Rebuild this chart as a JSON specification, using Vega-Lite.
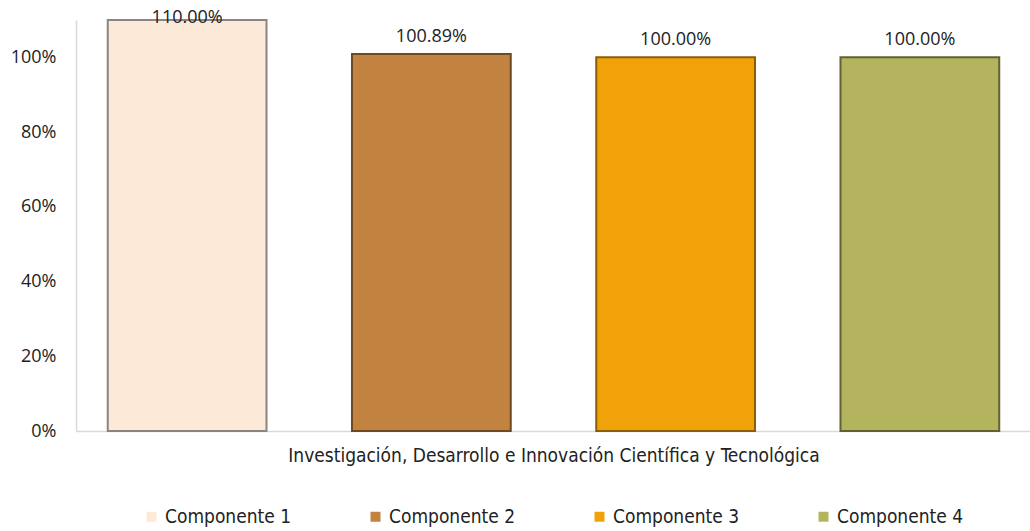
{
  "$schema": "https://vega.github.io/schema/vega-lite/v6.json",
  "autosize": "none",
  "width": 955,
  "height": 411,
  "padding": {"left": 76, "top": 20, "right": 0, "bottom": 100},
  "background": "white",
  "config": {"view": {"stroke": null}},
  "data": {
    "values": [
      {"grupo": "Investigación, Desarrollo e Innovación Científica y Tecnológica", "componente": "Componente 1", "valor": 1.10},
      {"grupo": "Investigación, Desarrollo e Innovación Científica y Tecnológica", "componente": "Componente 2", "valor": 1.0089},
      {"grupo": "Investigación, Desarrollo e Innovación Científica y Tecnológica", "componente": "Componente 3", "valor": 1.00},
      {"grupo": "Investigación, Desarrollo e Innovación Científica y Tecnológica", "componente": "Componente 4", "valor": 1.00}
    ]
  },
  "encoding": {
    "x": {
      "field": "componente",
      "type": "nominal",
      "scale": {"paddingInner": 0.35, "paddingOuter": 0.13},
      "axis": {
        "title": "Investigación, Desarrollo e Innovación Científica y Tecnológica",
        "labels": false,
        "ticks": false,
        "domainColor": "#D9D9D9",
        "domainWidth": 1.5,
        "titleFont": "DejaVu Sans Condensed, sans-serif",
        "titleFontSize": 19,
        "titleFontWeight": "normal",
        "titleColor": "#222222",
        "titlePadding": 15
      }
    },
    "y": {
      "field": "valor",
      "type": "quantitative",
      "scale": {"domain": [0, 1.1], "nice": false},
      "axis": {
        "title": null,
        "values": [0, 0.2, 0.4, 0.6, 0.8, 1.0],
        "format": ".0%",
        "grid": false,
        "ticks": false,
        "domainColor": "#D9D9D9",
        "domainWidth": 1.5,
        "labelFont": "Open Sans",
        "labelFontSize": 18,
        "labelColor": "#222222",
        "labelPadding": 20
      }
    }
  },
  "layer": [
    {
      "mark": {"type": "bar", "strokeWidth": 2},
      "encoding": {
        "color": {
          "field": "componente",
          "type": "nominal",
          "scale": {"range": ["#FCE9D8", "#C28340", "#F0A208", "#B5B45E"]},
          "legend": {
            "title": null,
            "orient": "none",
            "legendX": 66,
            "legendY": 487,
            "direction": "horizontal",
            "symbolType": "square",
            "symbolSize": 100,
            "symbolStrokeWidth": 0,
            "labelFont": "DejaVu Sans Condensed, sans-serif",
            "labelFontSize": 19,
            "labelColor": "#222222",
            "labelOffset": 4,
            "columnPadding": 74
          }
        },
        "stroke": {
          "field": "componente",
          "type": "nominal",
          "scale": {"range": ["#8A8580", "#6E4A22", "#8A5E05", "#626132"]},
          "legend": null
        }
      }
    },
    {
      "transform": [{"filter": "datum.valor < 1.05"}],
      "mark": {"type": "text", "baseline": "alphabetic", "dy": -12, "font": "Open Sans", "fontSize": 18, "color": "#222222"},
      "encoding": {
        "text": {"field": "valor", "type": "quantitative", "format": ".2%"}
      }
    },
    {
      "transform": [{"filter": "datum.valor >= 1.05"}],
      "mark": {"type": "text", "baseline": "alphabetic", "dy": 3, "font": "Open Sans", "fontSize": 18, "color": "#222222"},
      "encoding": {
        "text": {"field": "valor", "type": "quantitative", "format": ".2%"}
      }
    }
  ]
}
